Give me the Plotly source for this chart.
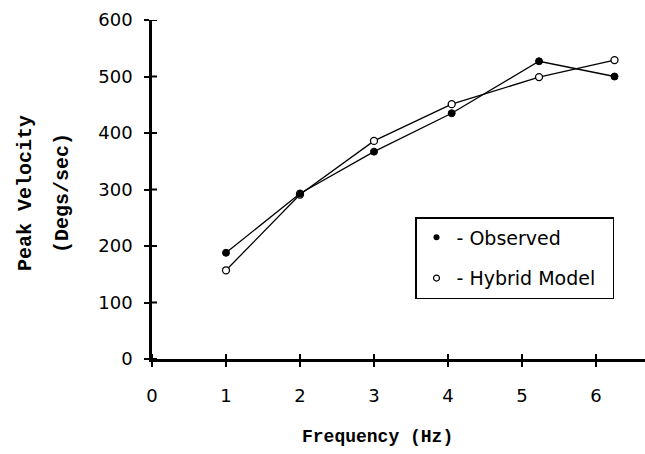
import plotly.graph_objects as go

freq = [1.0, 2.0, 3.0, 4.05, 5.23, 6.25]
observed = [188, 293, 367, 435, 527, 500]
hybrid = [157, 291, 386, 451, 499, 529]
y_ticks = [0, 100, 200, 300, 400, 500, 600]
x_ticks = [0, 1, 2, 3, 4, 5, 6]

W, H = 645, 454
L, R, T, B = 152, 0, 20, 95
PW, PH = W - L - R, H - T - B

fig = go.Figure()
fig.add_trace(go.Scatter(x=freq, y=hybrid, mode="lines+markers", showlegend=False,
                         line=dict(color="black", width=1.3),
                         marker=dict(symbol="circle", size=7, color="white",
                                     line=dict(color="black", width=1.3))))
fig.add_trace(go.Scatter(x=freq, y=observed, mode="lines+markers", showlegend=False,
                         line=dict(color="black", width=1.3),
                         marker=dict(symbol="circle", size=7, color="black",
                                     line=dict(color="black", width=1))))
# legend-only entries (markers only)
fig.add_trace(go.Scatter(x=[None], y=[None], mode="markers", name="- Observed",
                         legendgroup="a",
                         marker=dict(symbol="circle", size=6, color="black")))
fig.add_trace(go.Scatter(x=[None], y=[None], mode="markers",
                         name="- Hybrid Model\u00a0\u00a0",
                         legendgroup="b",
                         marker=dict(symbol="circle", size=6, color="white",
                                     line=dict(color="black", width=1.2))))

tickfont = dict(family="DejaVu Sans", size=18, color="black")
xr = [0, PW / 74.0]
yr = [0, 600]

fig.update_layout(
    width=W, height=H,
    margin=dict(l=L, r=R, t=T, b=B),
    paper_bgcolor="white", plot_bgcolor="white",
    showlegend=True,
    legend=dict(x=(415 - L) / PW, y=(359 - 217) / PH,
                xanchor="left", yanchor="top",
                bordercolor="black", borderwidth=1.5, bgcolor="white",
                font=dict(family="DejaVu Sans", size=19, color="black"),
                traceorder="grouped", tracegroupgap=13,
                itemwidth=30),
    xaxis=dict(range=xr, tickvals=x_ticks, ticks="outside", ticklen=5, tickwidth=2,
               tickcolor="black", showline=True, linecolor="black", linewidth=2.5,
               showgrid=False, zeroline=False, tickfont=tickfont, ticklabelstandoff=14),
    yaxis=dict(range=yr, tickvals=y_ticks, ticks="outside", ticklen=5, tickwidth=2,
               tickcolor="black", showline=True, linecolor="black", linewidth=2.5,
               showgrid=False, zeroline=False, tickfont=tickfont, ticklabelstandoff=8),
)

# inner half of the crossing tick marks
for xv in x_ticks:
    fig.add_shape(type="line", xref="x", yref="y domain", x0=xv, x1=xv, y0=0, y1=5 / PH,
                  line=dict(color="black", width=2))
for yv in y_ticks:
    fig.add_shape(type="line", xref="x domain", yref="y", x0=0, x1=5 / PW, y0=yv, y1=yv,
                  line=dict(color="black", width=2))

x_title_font = dict(family="Liberation Mono", size=18, color="black", weight="bold")
fig.add_annotation(text="Frequency (Hz)", xref="paper", yref="paper",
                   x=(377 - L) / PW, y=-(437 - 359) / PH,
                   xanchor="center", yanchor="middle", showarrow=False, font=x_title_font)
yt_font = dict(family="Liberation Mono", size=20, color="black", weight="bold")
fig.add_annotation(text="Peak Velocity", xref="paper", yref="paper",
                   x=-(L - 25) / PW, y=(359 - 193) / PH, textangle=-90,
                   xanchor="center", yanchor="middle", showarrow=False, font=yt_font)
fig.add_annotation(text="(Degs/sec)", xref="paper", yref="paper",
                   x=-(L - 62) / PW, y=(359 - 193) / PH, textangle=-90,
                   xanchor="center", yanchor="middle", showarrow=False, font=yt_font)

fig.write_html("out.html")
